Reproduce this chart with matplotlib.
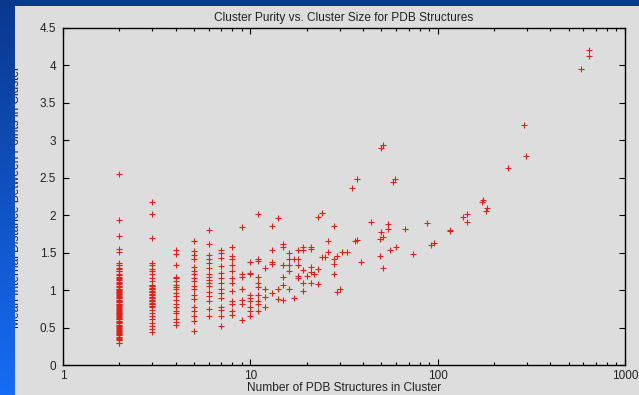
import numpy as np
import matplotlib
matplotlib.use("Agg")
import matplotlib.pyplot as plt
from matplotlib.ticker import FixedLocator, FormatStrFormatter, NullFormatter

plt.rcParams['font.family'] = ['Liberation Sans', 'DejaVu Sans']

# mean internal distance for the small clusters, one list per cluster size
dist_2 = [2.55, 1.93, 1.72, 1.55, 1.51,
          1.36, 1.33, 1.30, 1.28, 1.25, 1.22, 1.20, 1.18, 1.15, 1.13, 1.10, 1.08,
          1.06, 1.04, 1.02, 1.01, 0.99, 0.97, 0.95, 0.94, 0.92, 0.90, 0.89, 0.87,
          0.85, 0.84, 0.82, 0.80, 0.79, 0.77, 0.75, 0.74, 0.72, 0.70, 0.69, 0.67,
          0.66, 0.64, 0.62, 0.61, 0.59, 0.57, 0.56, 0.54, 0.52, 0.51, 0.49, 0.47,
          0.45, 0.44, 0.42, 0.40, 0.38, 0.36, 0.33, 0.30, 0.29,
          1.34, 1.26, 1.16, 1.11, 1.05, 1.00, 0.96, 0.91, 0.86, 0.81, 0.76,
          0.71, 0.68, 0.63, 0.58, 0.53, 0.48, 0.43, 0.41, 0.35]
dist_3 = [2.17, 2.02, 1.69, 1.36, 1.33, 1.28, 1.25, 1.21, 1.16, 1.12, 1.07, 1.05,
          1.03, 1.01, 0.99, 0.97, 0.95, 0.93, 0.91, 0.89, 0.87, 0.85, 0.83, 0.81,
          0.78, 0.74, 0.70, 0.65, 0.61, 0.56, 0.52, 0.48, 0.44,
          1.06, 1.02, 0.98, 0.94, 0.90, 0.86, 0.82, 0.79]
dist_4 = [1.53, 1.48, 1.33, 1.18, 1.16, 1.12, 1.07, 1.04, 1.01, 0.96, 0.92, 0.87,
          0.82, 0.78, 0.72, 0.69, 0.61, 0.57, 0.54]
dist_5 = [1.66, 1.52, 1.47, 1.41, 1.31, 1.25, 1.21, 1.16, 1.12, 1.06, 1.01, 0.93,
          0.88, 0.78, 0.72, 0.65, 0.59, 0.46]
dist_6 = [1.80, 1.62, 1.47, 1.42, 1.36, 1.29, 1.22, 1.18, 1.14, 1.09, 1.05, 0.98,
          0.92, 0.85, 0.75, 0.65]
dist_7 = [1.54, 1.49, 1.43, 1.32, 1.23, 1.16, 1.09, 1.01, 0.96, 0.89, 0.78, 0.73,
          0.65, 0.52]
dist_8 = [1.58, 1.45, 1.41, 1.34, 1.25, 1.16, 1.09, 0.99, 0.85, 0.81, 0.72, 0.67]
dist_9 = [1.84, 1.22, 1.17, 1.01, 0.87, 0.82, 0.60]
dist_10 = [1.37, 1.23, 1.21, 0.93, 0.89, 0.85, 0.77, 0.72, 0.65]
dist_11 = [2.02, 1.42, 1.39, 1.17, 1.10, 1.04, 0.93, 0.85, 0.81, 0.72]

# larger clusters: size and distance pairs
big_size = [12, 12, 12, 12, 13, 13, 13, 13, 13, 14, 14, 14,
            15, 15, 15, 15, 15, 15, 16, 16, 16, 16, 16, 17, 17,
            18, 18, 18, 18, 18, 19, 19, 19, 19, 19, 20, 21, 21, 21, 21, 21, 22,
            23, 23, 23, 24, 24, 25, 26, 26, 28, 28, 28, 28, 29, 29, 30, 31, 33,
            35, 36, 37, 37, 39, 44, 49, 49, 50, 50, 51, 51, 51, 54, 54, 56,
            58, 59, 60, 67, 74, 88, 92, 96, 116, 117, 137, 143, 143,
            172, 174, 181, 183, 238, 290, 296, 582, 642, 642]
big_dist = [1.29, 1.02, 0.91, 0.77, 1.85, 1.54, 1.38, 1.35, 0.96, 1.96, 1.02, 0.88,
            1.61, 1.57, 1.34, 1.18, 1.07, 0.87, 1.49, 1.42, 1.34, 1.25, 1.01, 1.41, 0.89,
            1.54, 1.41, 1.34, 1.19, 1.16, 1.58, 1.53, 1.27, 1.10, 0.99, 1.19, 1.58, 1.55, 1.31, 1.24, 1.10, 1.22,
            1.97, 1.28, 1.08, 2.03, 1.44, 1.44, 1.65, 1.51, 1.86, 1.42, 1.35, 1.22, 1.45, 0.98, 1.01, 1.51, 1.51,
            2.36, 1.65, 2.49, 1.67, 1.37, 1.91, 1.68, 1.46, 2.90, 1.77, 2.94, 1.71, 1.30, 1.88, 1.82, 1.54,
            2.44, 2.48, 1.57, 1.82, 1.48, 1.89, 1.60, 1.63, 1.79, 1.80, 1.97, 2.02, 1.91,
            2.18, 2.20, 2.06, 2.09, 2.63, 3.20, 2.79, 3.95, 4.20, 4.13]

small = [(2, dist_2), (3, dist_3), (4, dist_4), (5, dist_5), (6, dist_6),
         (7, dist_7), (8, dist_8), (9, dist_9), (10, dist_10), (11, dist_11)]
sizes = np.concatenate([np.full(len(d), s) for s, d in small] + [np.array(big_size)])
dists = np.concatenate([np.array(d) for s, d in small] + [np.array(big_dist)])

panel = '#dddddd'
fig = plt.figure(figsize=(6.39, 3.95), dpi=100, facecolor=panel)
ax = fig.add_axes([63/639, 30/395, 562/639, 337/395], facecolor=panel)

ax.plot(sizes, dists, '+', color='#e0211a', markersize=4.5, markeredgewidth=0.8)

ax.set_xscale('log')
ax.set_xlim(1, 1000)
ax.set_ylim(0, 4.5)
ax.xaxis.set_major_locator(FixedLocator([1, 10, 100, 1000]))
ax.xaxis.set_major_formatter(FormatStrFormatter('%g'))
ax.xaxis.set_minor_locator(FixedLocator([m * 10**e for e in range(3) for m in range(2, 10)]))
ax.xaxis.set_minor_formatter(NullFormatter())
ax.yaxis.set_major_locator(FixedLocator(np.arange(0, 4.51, 0.5)))
ax.yaxis.set_major_formatter(FormatStrFormatter('%g'))

ax.tick_params(which='both', direction='in', top=True, right=True,
               labelsize=8.5, width=0.8, color='black', labelcolor='#222222')
ax.tick_params(which='major', length=4.2, pad=3.5)
ax.tick_params(which='minor', length=2.2)
ax.tick_params(axis='y', which='major', pad=5)
for s in ax.spines.values():
    s.set_linewidth(1.0)

ax.set_title('Cluster Purity vs. Cluster Size for PDB Structures', fontsize=8.6, pad=5,
             color='#222222')
ax.set_xlabel('Number of PDB Structures in Cluster', fontsize=8.6, labelpad=0,
              color='#222222')
fig.text(15.8/639, 0.5025, 'Mean Internal Distance Between Points in Cluster',
         rotation=90, ha='center', va='center', fontsize=8.6, color='#222222')

# blue slide border on the left and top
grad = np.linspace(0, 1, 256).reshape(-1, 1)
top_rgb = np.array([10, 56, 142]) / 255
bot_rgb = np.array([22, 108, 245]) / 255
img = top_rgb + grad[..., None] * (bot_rgb - top_rgb)
img = img.reshape(256, 1, 3)
left = fig.add_axes([0, 0, 15/639, 1], zorder=10)
left.imshow(img, aspect='auto', extent=[0, 1, 1, 0])
left.axis('off')
topbar = fig.add_axes([0, 1 - 6/395, 1, 6/395], zorder=11)
topbar.set_facecolor(top_rgb)
topbar.set_xticks([])
topbar.set_yticks([])
for s in topbar.spines.values():
    s.set_visible(False)

fig.savefig('out.png', dpi=100, facecolor=panel)
